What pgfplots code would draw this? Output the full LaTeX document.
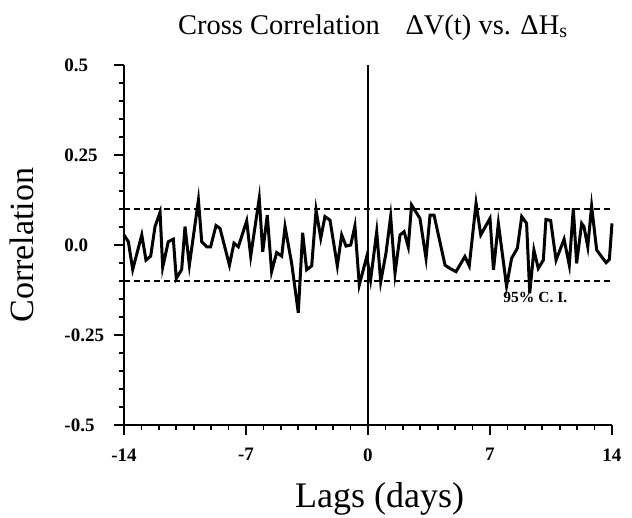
\documentclass[border=0pt]{standalone}
\usepackage{fontspec}
\setmainfont{Liberation Serif}
\usepackage{pgfplots}
\pgfplotsset{compat=1.18}
\begin{document}
\begin{tikzpicture}
\path[use as bounding box] (-124pt,-92pt) rectangle (508pt,425pt);
\begin{axis}[
  at={(0pt,0pt)}, anchor=south west,
  scale only axis, width=488pt, height=360pt,
  xmin=-14, xmax=14, ymin=-0.5, ymax=0.5,
  enlargelimits=false, clip=false,
  axis lines*=left,
  axis line style={line width=1.8pt},
  tick align=outside,
  major tick length=10pt, minor tick length=5pt,
  every tick/.style={line width=1.6pt, black},
  xtick={-14,-7,0,7,14}, xticklabels={-14,-7,0,7,14},
  minor x tick num=6,
  ytick={-0.5,-0.25,0,0.25,0.5}, yticklabels={-0.5,-0.25,0.0,0.25,0.5},
  minor y tick num=4,
  /pgf/number format/assume math mode=true,
  ticklabel style={font=\fontsize{19}{21}\selectfont\bfseries},
  yticklabel style={text width=46pt, align=left},
  xticklabel style={yshift=-10pt},
  title={Cross Correlation\hspace{0.9em}ΔV(t) vs. ΔH\textsubscript{s}},
  title style={font=\fontsize{28.5}{32}\selectfont, at={(axis description cs:0.51,1.088)}, anchor=center},
  xlabel={Lags (days)},
  xlabel style={font=\fontsize{36}{40}\selectfont, at={(axis description cs:0.524,-0.205)}, anchor=center},
  ylabel={Correlation},
  ylabel style={font=\fontsize{34}{38}\selectfont, at={(axis description cs:-0.209,0.5)}, anchor=center},
]
\addplot[black, line width=1.8pt, dash pattern=on 6pt off 4pt] coordinates {(-14,0.1) (14,0.1)};
\addplot[black, line width=1.8pt, dash pattern=on 6pt off 4pt] coordinates {(-14,-0.1) (14,-0.1)};
\addplot[black, line width=2pt] coordinates {(0,-0.5) (0,0.5)};
\addplot[black, line width=3pt, line join=miter] coordinates {
(-14,0.028) (-13.75,0.009) (-13.5,-0.068) (-12.98,0.028) (-12.74,-0.042) (-12.47,-0.031)
(-12.22,0.051) (-11.93,0.091) (-11.78,-0.062) (-11.46,0.009) (-11.17,0.016) (-11.0,-0.093)
(-10.69,-0.068) (-10.5,0.051) (-10.25,-0.056) (-9.73,0.125) (-9.54,0.009) (-9.25,-0.005)
(-9.03,-0.005) (-8.72,0.054) (-8.49,0.046) (-7.95,-0.056) (-7.69,0.005) (-7.44,-0.005)
(-6.96,0.067) (-6.73,-0.031) (-6.24,0.13) (-6.04,-0.019) (-5.78,0.083) (-5.53,-0.074)
(-5.24,-0.021) (-4.95,-0.031) (-4.76,0.051) (-4.38,-0.051) (-4.0,-0.188) (-3.75,0.034)
(-3.52,-0.069) (-3.23,-0.058) (-2.98,0.097) (-2.71,0.019) (-2.47,0.079) (-2.18,0.069)
(-1.76,-0.058) (-1.51,0.028) (-1.26,-0.003) (-0.99,0.0) (-0.75,0.053) (-0.5,-0.111)
(-0.27,-0.069) (-0.07,-0.032) (0.15,-0.097) (0.5,0.037) (0.73,-0.102) (1.03,-0.023)
(1.3,0.079) (1.55,-0.079) (1.84,0.028) (2.07,0.037) (2.31,-0.005) (2.5,0.111)
(2.98,0.074) (3.33,-0.037) (3.56,0.083) (3.79,0.083) (4.42,-0.056) (4.7,-0.065)
(5.05,-0.074) (5.56,-0.032) (5.81,-0.058) (6.2,0.116) (6.47,0.028) (7.0,0.074)
(7.2,-0.069) (7.48,0.060) (7.95,-0.114) (8.24,-0.037) (8.57,-0.009) (8.82,0.079)
(9.1,0.060) (9.28,-0.134) (9.52,-0.014) (9.77,-0.065) (10.06,-0.042) (10.21,0.071)
(10.48,0.068) (10.79,-0.042) (11.25,0.016) (11.55,-0.056) (11.78,0.102) (11.97,-0.051)
(12.26,0.06) (12.39,0.051) (12.61,-0.005) (12.83,0.108) (13.12,-0.014) (13.66,-0.049)
(13.85,-0.04) (14.0,0.06)
};
\node[font=\fontsize{15.5}{17}\selectfont\bfseries] at (axis cs:9.6,-0.145) {95\% C. I.};
\end{axis}
\end{tikzpicture}
\end{document}
